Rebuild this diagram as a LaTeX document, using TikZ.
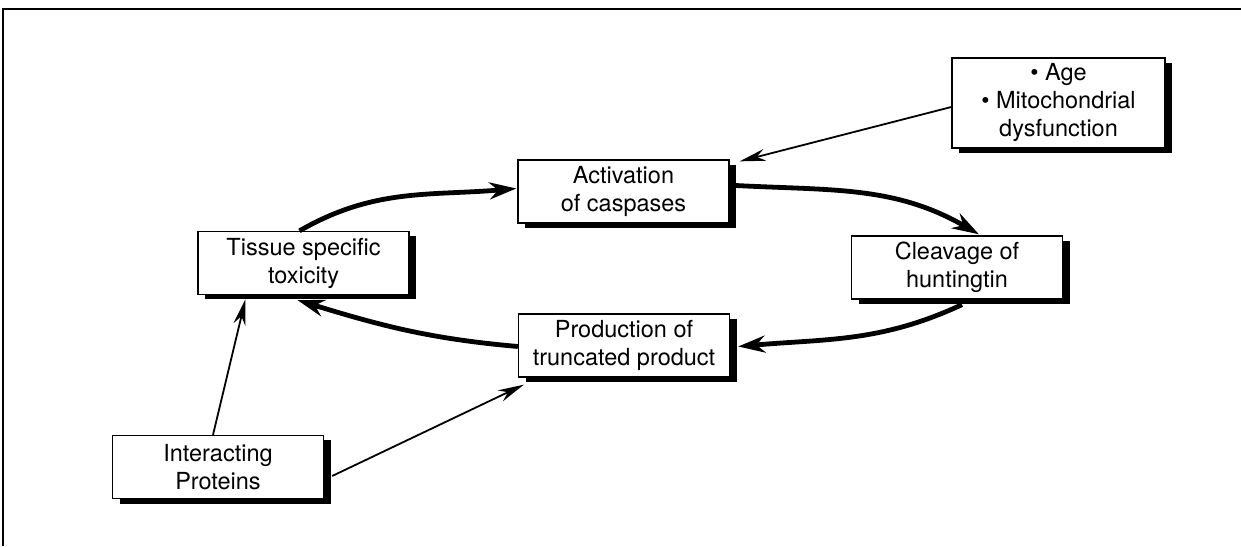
\documentclass[tikz,border=0pt]{standalone}
\usepackage{fontspec}
\setmainfont{TeX Gyre Heros}
\usetikzlibrary{arrows.meta,shadows,calc}
\begin{document}
\begin{tikzpicture}[x=1pt,y=1pt,
  nbox/.style={draw=black, line width=1.3pt, fill=white, minimum width=211pt,
    minimum height=63pt, inner sep=2pt, align=center,
    font=\fontsize{23.5}{28}\selectfont,
    drop shadow={shadow xshift=7pt,shadow yshift=-5pt,fill=black,opacity=1}},
  cyc/.style={line width=4.8pt, -{Stealth[length=27pt,width=17pt]}},
  thinarrow/.style={line width=1.8pt, -{Stealth[length=26pt,width=12pt]}},
  frame/.style={line width=1.5pt}]
\useasboundingbox (0,0) rectangle (1241,546);
% frame
\coordinate (ftr) at (1241,537);
\coordinate (ftl) at (3,537);
\coordinate (fbl) at (3,0);
\draw[frame] (ftr) -- (ftl) -- (fbl);
% nodes
\node[nbox] (act) at (623.5,354.5) {Activation\\of caspases};
\node[nbox] (clv) at (957,278.5) {Cleavage of\\huntingtin};
\node[nbox] (tis) at (303.5,283) {Tissue specific\\toxicity};
\node[nbox] (prod) at (624,200.5) {Production of\\truncated product};
\node[nbox] (int) at (218,79) {Interacting\\Proteins};
\node[nbox, minimum width=213pt, minimum height=90pt] (age) at (1058.5,443)
  {\textbullet\ Age\\\textbullet\ Mitochondrial\\dysfunction};
% cycle
\draw[cyc] ($(tis.north)+(-4,0)$) to[out=30,in=185] ($(act.west)+(-1,3)$);
\draw[cyc] ($(act.east)+(6,6)$) to[out=-3,in=150] ($(clv.north)+(22,1)$);
\draw[cyc] ($(clv.south)+(5,-5)$) to[out=-155,in=5] ($(prod.east)+(8,-1)$);
\draw[cyc] ($(prod.west)+(0,-1)$) to[out=175,in=-17] ($(tis.south)+(-6,-5)$);
% thin arrows
\draw[thinarrow] ($(age.west)+(0,-4)$) -- ($(act.north east)+(10,-2)$);
\draw[thinarrow] ($(int.north)+(-5,0)$) -- ($(tis.south)+(-58,-4)$);
\draw[thinarrow] ($(int.east)+(8,-9)$) -- ($(prod.south west)+(6,-7)$);
\end{tikzpicture}
\end{document}
